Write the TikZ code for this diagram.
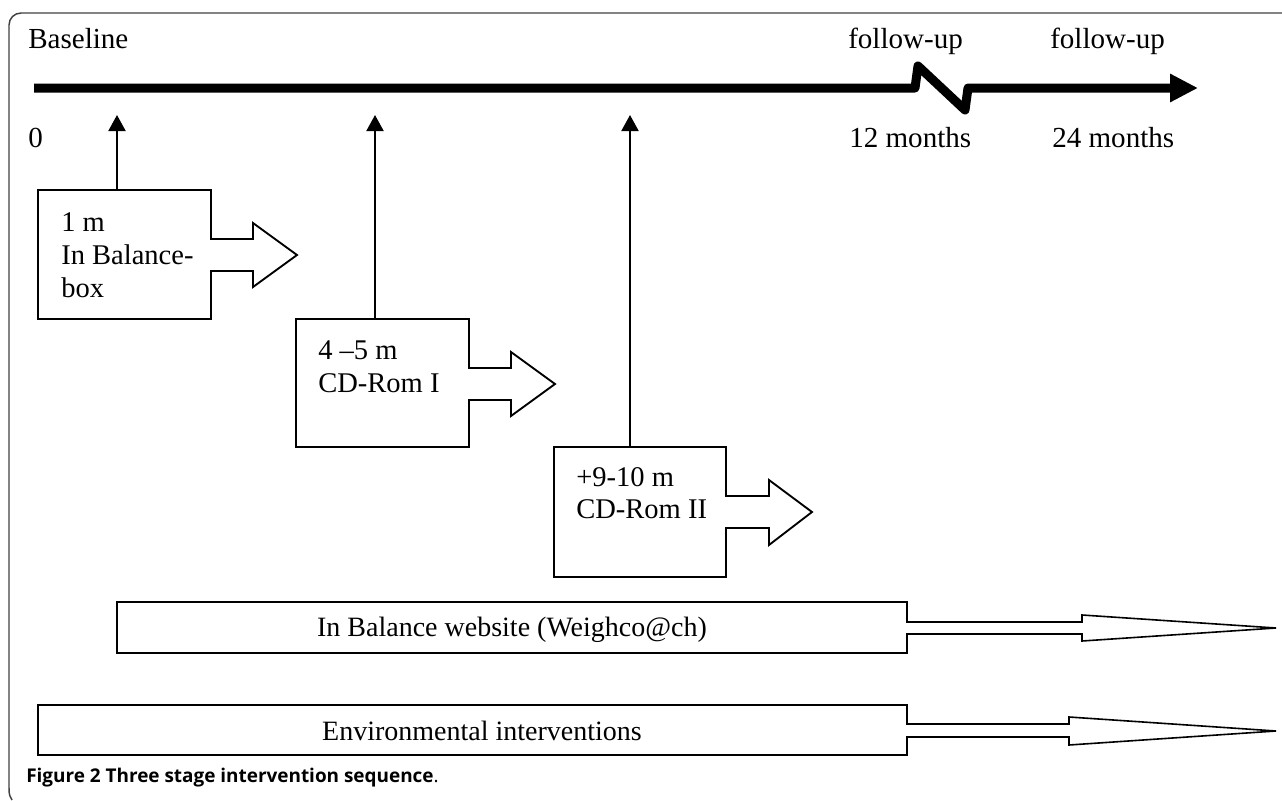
\documentclass[tikz,border=0pt]{standalone}
\usepackage{fontspec}
\setmainfont{Liberation Serif}
\newfontfamily\capfont{Open Sans}
\usetikzlibrary{arrows.meta}
\begin{document}
\begin{tikzpicture}[x=0.75pt,y=-0.75pt,
  lbl/.style={anchor=base west,inner sep=0pt,font=\fontsize{21.8}{25}\selectfont},
  blbl/.style={anchor=base west,inner sep=0pt,font=\fontsize{21.4}{25}\selectfont},
  clbl/.style={anchor=base,inner sep=0pt,font=\fontsize{21}{24.5}\selectfont},
  callout/.style={draw=black,line width=1.4pt,fill=white,line join=miter},
  varrow/.style={line width=1.5pt,-{Triangle[width=12.75pt,length=12pt]}},
  timeline/.style={line width=6.75pt,line join=round,-{Triangle[width=20pt,length=21pt]}},
  frame/.style={draw=black!75,line width=1.1pt}]
\useasboundingbox (0,0) rectangle (1282,800);

% frame
\draw[frame,rounded corners=9pt] (1284,13) -- (9,13) -- (9,788);
\draw[frame] (9,788) .. controls (9,795) and (10,797) .. (12,800);

% timeline
\coordinate (tl0) at (34,88);
\coordinate (tlend) at (1198,88);
\draw[timeline] (tl0) -- (915,88) -- (918,66) -- (965,110) -- (968,88) -- (tlend);

% timeline labels
\node[lbl] (base) at (28,48) {Baseline};
\node[lbl] (fu1) at (848,48) {follow-up};
\node[lbl] (fu2) at (1050,48) {follow-up};
\node[lbl] (zero) at (28,147) {0};
\node[lbl] (m12) at (849,147) {12 months};
\node[lbl] (m24) at (1052,147) {24 months};

% callout 1
\draw[callout] (38,190) -- (211,190) -- (211,239) -- (253,239) -- (253,223) -- (297,255)
  -- (253,287) -- (253,271) -- (211,271) -- (211,319) -- (38,319) -- cycle;
\coordinate (b1top) at (117,190);
\coordinate (t1) at (117,115);
\draw[varrow] (b1top) -- (t1);
\node[blbl] (b1a) at (61,231) {1 m};
\node[blbl] (b1b) at (61,264) {In Balance-};
\node[blbl] (b1c) at (61,297) {box};

% callout 2
\draw[callout] (296,319) -- (469,319) -- (469,368) -- (511,368) -- (511,352) -- (555,384)
  -- (511,416) -- (511,400) -- (469,400) -- (469,447) -- (296,447) -- cycle;
\coordinate (b2top) at (375,319);
\coordinate (t2) at (375,115);
\draw[varrow] (b2top) -- (t2);
\node[blbl] (b2a) at (318,359) {4 –5 m};
\node[blbl] (b2b) at (318,392) {CD-Rom I};

% callout 3
\draw[callout] (554,447) -- (726,447) -- (726,496) -- (769,496) -- (769,480) -- (812,512)
  -- (769,545) -- (769,528) -- (726,528) -- (726,577) -- (554,577) -- cycle;
\coordinate (b3top) at (630,447);
\coordinate (t3) at (630,115);
\draw[varrow] (b3top) -- (t3);
\node[blbl] (b3a) at (576,486) {+9-10 m};
\node[blbl] (b3b) at (576,518) {CD-Rom II};

% website arrow
\draw[callout,line width=1.2pt] (117,602) -- (907,602) -- (907,622) -- (1082,622) -- (1082,615)
  -- (1276,628) -- (1082,641) -- (1082,634) -- (907,634) -- (907,653) -- (117,653) -- cycle;
\node[clbl] (web) at (512,636) {In Balance website (Weighco@ch)};

% environmental arrow
\draw[callout,line width=1.2pt] (38,705) -- (907,705) -- (907,724) -- (1069,724) -- (1069,717)
  -- (1276,731) -- (1069,745) -- (1069,737) -- (907,737) -- (907,755) -- (38,755) -- cycle;
\node[clbl] (env) at (482,740) {Environmental interventions};

% caption
\node[anchor=base west,inner sep=0pt] (cap) at (26,782)
  {\capfont\fontsize{14.2}{16}\selectfont\bfseries Figure 2 Three stage intervention sequence\mdseries.};
\end{tikzpicture}
\end{document}
